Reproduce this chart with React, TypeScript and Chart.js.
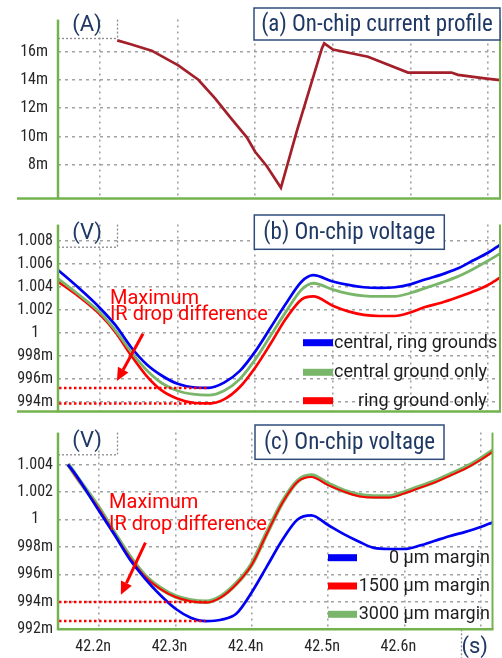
import React, { useEffect, useRef } from "react";
import { Chart, registerables } from "chart.js";

Chart.register(...registerables);

// ---------------- data ----------------
const X_MIN = 42.146; // ns
const X_MAX = 42.7155;
const xTickValues = [42.2, 42.3, 42.4, 42.5, 42.6, 42.7];
const xTickLabels = ["42.2n", "42.3n", "42.4n", "42.5n", "42.6n", "(s)"];

// (a) on-chip current (mA)
const currentTime = [42.2223, 42.2387, 42.2667, 42.301, 42.3268, 42.3484, 42.3677, 42.3893, 42.4, 42.4151, 42.4332, 42.4538, 42.4861, 42.489, 42.5003, 42.5454, 42.597, 42.6529, 42.6615, 42.6959, 42.7174];
const currentValue = [16.81, 16.55, 16.08, 15.04, 14.02, 12.7, 11.37, 9.94, 8.92, 7.9, 6.37, 10.4, 16.26, 16.6, 16.16, 15.65, 14.53, 14.53, 14.37, 14.12, 13.98];
const yTicksA = [8, 10, 12, 14, 16];
const yLabelsA = ["8m", "10m", "12m", "14m", "16m"];

// (b) on-chip voltage (mV)
const timeB = [42.146, 42.17, 42.2, 42.22, 42.24, 42.26, 42.28, 42.3, 42.32, 42.34, 42.36, 42.38, 42.4, 42.42, 42.44, 42.46, 42.475, 42.5, 42.52, 42.54, 42.56, 42.58, 42.6, 42.62, 42.64, 42.66, 42.68, 42.7, 42.716];
const centralRingB = [1005.5, 1004.1, 1002.2, 1000.7, 998.8, 997.3, 996.3, 995.6, 995.3, 995.25, 995.7, 996.7, 998.4, 1000.5, 1002.6, 1004.5, 1005.05, 1004.5, 1004.2, 1004.0, 1003.95, 1004.0, 1004.25, 1004.7, 1005.1, 1005.6, 1006.3, 1007.0, 1007.7];
const centralOnlyB = [1004.75, 1003.5, 1001.8, 1000.25, 998.4, 996.8, 995.65, 995.0, 994.7, 994.62, 995.0, 996.0, 997.7, 999.8, 1001.9, 1003.8, 1004.35, 1003.8, 1003.45, 1003.25, 1003.2, 1003.2, 1003.5, 1003.95, 1004.4, 1004.9, 1005.55, 1006.3, 1006.95];
const ringOnlyB = [1004.5, 1003.35, 1001.65, 1000.1, 998.1, 996.3, 995.0, 994.3, 993.95, 993.9, 994.25, 995.3, 997.0, 999.1, 1001.3, 1002.95, 1003.2, 1002.4, 1001.9, 1001.6, 1001.5, 1001.5, 1001.8, 1002.3, 1002.65, 1003.1, 1003.6, 1004.2, 1004.85];
const namesB = ["central, ring grounds", "central ground only", "ring ground only"];
const yTicksB = [994, 996, 998, 1000, 1002, 1004, 1006, 1008];
const yLabelsB = ["994m", "996m", "998m", "1", "1.002", "1.004", "1.006", "1.008"];
const irLevelsB = [995.24, 993.88];
const irEndsB = [42.339, 42.3456];

// (c) on-chip voltage (mV)
const timeC = [42.159, 42.17, 42.2, 42.22, 42.24, 42.26, 42.28, 42.3, 42.32, 42.34, 42.36, 42.38, 42.4, 42.42, 42.44, 42.46, 42.478, 42.5, 42.52, 42.54, 42.56, 42.58, 42.6, 42.62, 42.64, 42.66, 42.68, 42.7, 42.716];
const margin0C = [1004.0, 1003.2, 1000.6, 998.9, 997.1, 995.7, 994.5, 993.5, 992.85, 992.6, 992.7, 993.15, 994.7, 996.6, 998.5, 1000.0, 1000.3, 999.6, 998.95, 998.4, 997.93, 997.85, 997.85, 998.1, 998.45, 998.8, 999.1, 999.45, 999.8];
const margin1500C = [1004.0, 1003.1, 1000.75, 998.95, 997.25, 995.85, 994.95, 994.35, 994.05, 993.95, 994.35, 995.3, 996.7, 999.0, 1001.2, 1002.75, 1003.1, 1002.5, 1002.05, 1001.7, 1001.6, 1001.6, 1001.9, 1002.3, 1002.7, 1003.2, 1003.7, 1004.35, 1004.95];
const margin3000C = [1004.05, 1003.15, 1000.8, 999.0, 997.3, 995.9, 995.0, 994.4, 994.1, 994.0, 994.4, 995.35, 996.75, 999.05, 1001.25, 1002.8, 1003.2, 1002.6, 1002.1, 1001.78, 1001.68, 1001.68, 1001.98, 1002.38, 1002.78, 1003.28, 1003.78, 1004.42, 1005.02];
const namesC = ["0 μm margin", "1500 μm margin", "3000 μm margin"];
const yTicksC = [992, 994, 996, 998, 1000, 1002, 1004];
const yLabelsC = ["992m", "994m", "996m", "998m", "1", "1.002", "1.004"];
const irLevelsC = [993.98, 992.6];
const irEndsC = [42.342, 42.339];

// ---------------- styles ----------------
const FRAME = "#74B24F";
const NAVY = "#1F3864";
const GRID = "#A2A2A2";
const TICK = "#262626";
const BLUE = "#0000F5";
const GREEN = "#7AB66A";
const RED = "#FF0000";
const MAROON = "#A3202A";

type Decor = {
  offY: number;
  sepLeft: number;
  unit: string;
  unitBottom: number;
  unitY: number;
  title: string;
  titleBox: [number, number, number, number];
  legend?: { names: string[]; colors: string[]; swX: number; swW: number; swH: number; ys: number[]; textX: number[]; align: CanvasTextAlign };
  ir?: { levels: number[]; ends: number[]; arrow: [number, number, number, number]; textX: number; textY: [number, number] };
  sBox?: boolean;
};

function decorPlugin(d: Decor) {
  const seg = (ctx: CanvasRenderingContext2D, x1: number, y1: number, x2: number, y2: number) => {
    ctx.beginPath();
    ctx.moveTo(x1, y1);
    ctx.lineTo(x2, y2);
    ctx.stroke();
  };
  return {
    id: "decor",
    afterDraw(chart: any) {
      const ctx = chart.ctx as CanvasRenderingContext2D;
      const a = chart.chartArea;
      const xs = chart.scales.x;
      const ys = chart.scales.y;
      const o = d.offY;
      ctx.save();
      // unit box (dotted)
      ctx.strokeStyle = "#8A8A8A";
      ctx.lineWidth = 1.3;
      ctx.setLineDash([2, 2]);
      seg(ctx, a.left, d.unitBottom - o + 0.5, 117.5, d.unitBottom - o + 0.5);
      seg(ctx, 117.5, a.top, 117.5, d.unitBottom - o);
      if (d.sBox) {
        seg(ctx, 461.5, a.bottom, 461.5, chart.height);
      }
      ctx.setLineDash([]);
      ctx.fillStyle = NAVY;
      ctx.font = '22px "Roboto"';
      ctx.textAlign = "center";
      ctx.textBaseline = "middle";
      ctx.fillText(d.unit, 87, d.unitY - o);

      // IR drop annotation
      if (d.ir) {
        const ir = d.ir;
        ctx.strokeStyle = RED;
        ctx.lineWidth = 2.5;
        ctx.setLineDash([2.5, 2.5]);
        ir.levels.forEach((lv, i) => {
          const y = ys.getPixelForValue(lv);
          seg(ctx, a.left + 1, y, xs.getPixelForValue(ir.ends[i]), y);
        });
        ctx.setLineDash([]);
        const x1 = xs.getPixelForValue(ir.arrow[0]);
        const y1 = ys.getPixelForValue(ir.arrow[1]);
        const x2 = xs.getPixelForValue(ir.arrow[2]);
        const y2 = ys.getPixelForValue(ir.arrow[3]);
        const ang = Math.atan2(y2 - y1, x2 - x1);
        const hl = 13;
        const hw = 6;
        const bx = x2 - hl * Math.cos(ang);
        const by = y2 - hl * Math.sin(ang);
        ctx.lineWidth = 3;
        seg(ctx, x1, y1, bx, by);
        ctx.fillStyle = RED;
        ctx.beginPath();
        ctx.moveTo(x2, y2);
        ctx.lineTo(bx + hw * Math.sin(ang), by - hw * Math.cos(ang));
        ctx.lineTo(bx - hw * Math.sin(ang), by + hw * Math.cos(ang));
        ctx.closePath();
        ctx.fill();
        ctx.font = '20px "Roboto"';
        ctx.textAlign = "left";
        ctx.textBaseline = "alphabetic";
        const tx = xs.getPixelForValue(ir.textX);
        ctx.fillText("Maximum", tx, ys.getPixelForValue(ir.textY[0]));
        ctx.fillText("IR drop difference", tx, ys.getPixelForValue(ir.textY[1]));
      }

      // legend
      if (d.legend) {
        const lg = d.legend;
        ctx.font = '18px "Roboto"';
        ctx.textBaseline = "middle";
        ctx.textAlign = lg.align;
        lg.names.forEach((n, i) => {
          const y = lg.ys[i] - o;
          ctx.fillStyle = lg.colors[i];
          ctx.fillRect(lg.swX, y - lg.swH / 2, lg.swW, lg.swH);
          ctx.fillStyle = "#1E1E1E";
          ctx.fillText(n, lg.textX[i], y + 0.5);
        });
      }

      // frame
      ctx.strokeStyle = FRAME;
      ctx.lineWidth = 2.5;
      seg(ctx, a.left, a.top, a.left, a.bottom + 1);
      ctx.lineWidth = 2;
      seg(ctx, a.right, a.top, a.right, a.bottom);
      ctx.lineWidth = 2.5;
      seg(ctx, d.sepLeft, a.bottom, a.right + 1, a.bottom);

      // title box
      const [bx1, by1, bx2, by2] = d.titleBox;
      ctx.fillStyle = "#FFFFFF";
      ctx.fillRect(bx1, by1 - o, bx2 - bx1, by2 - by1);
      ctx.strokeStyle = "#2F4C7C";
      ctx.lineWidth = 1.5;
      ctx.strokeRect(bx1, by1 - o, bx2 - bx1, by2 - by1);
      ctx.fillStyle = NAVY;
      ctx.font = '23px "Roboto Condensed"';
      ctx.textAlign = "center";
      ctx.textBaseline = "middle";
      ctx.fillText(d.title, (bx1 + bx2) / 2, (by1 + by2) / 2 - o + 1);
      ctx.restore();
    },
  };
}

type PanelCfg = {
  height: number;
  padTop: number;
  padBottom: number;
  xHeight: number;
  showX: boolean;
  yMin: number;
  yMax: number;
  yTicks: number[];
  yLabels: string[];
  yPad: number;
  yAlign: "near" | "center";
  datasets: any[];
  decor: Decor;
};

function buildConfig(p: PanelCfg): any {
  return {
    type: "line",
    data: { datasets: p.datasets },
    options: {
      responsive: false,
      animation: false,
      devicePixelRatio: 1,
      layout: { padding: { top: p.padTop, bottom: p.padBottom, left: 0, right: 2 }, autoPadding: false },
      plugins: { legend: { display: false }, tooltip: { enabled: false }, title: { display: false } },
      elements: { point: { radius: 0 } },
      scales: {
        x: {
          type: "linear",
          min: X_MIN,
          max: X_MAX,
          afterBuildTicks: (s: any) => {
            s.ticks = xTickValues.map((v) => ({ value: v }));
          },
          afterFit: (s: any) => {
            s.height = p.xHeight;
          },
          grid: { display: true, drawTicks: false, color: GRID, lineWidth: 1.6 },
          border: { display: false, dash: [2, 4] },
          ticks: {
            display: p.showX,
            padding: 8,
            labelOffset: -6,
            maxRotation: 0,
            autoSkip: false,
            callback: (v: number) => xTickLabels[xTickValues.indexOf(v)] ?? "",
            color: (c: any) => (c.tick && c.tick.value > 42.65 ? NAVY : TICK),
            font: (c: any) =>
              c.tick && c.tick.value > 42.65
                ? { family: "Roboto", size: 22, lineHeight: 0.9 }
                : { family: "Roboto Condensed", size: 16, lineHeight: 1.2 },
          },
        },
        y: {
          type: "linear",
          min: p.yMin,
          max: p.yMax,
          afterBuildTicks: (s: any) => {
            s.ticks = p.yTicks.map((v) => ({ value: v }));
          },
          afterFit: (s: any) => {
            s.width = 58;
          },
          grid: { display: true, drawTicks: false, color: GRID, lineWidth: 1.6 },
          border: { display: false, dash: [3, 4] },
          ticks: {
            padding: p.yPad,
            crossAlign: p.yAlign,
            autoSkip: false,
            color: TICK,
            font: { family: "Roboto Condensed", size: 16 },
            callback: (v: number) => p.yLabels[p.yTicks.indexOf(v)] ?? "",
          },
        },
      },
    },
    plugins: [decorPlugin(p.decor)],
  };
}

function series(times: number[], values: number[], color: string, width: number, mode: "default" | "monotone" = "monotone") {
  return {
    data: times.map((t, i) => ({ x: t, y: values[i] })),
    borderColor: color,
    borderWidth: width,
    pointRadius: 0,
    cubicInterpolationMode: mode,
    tension: mode === "monotone" ? 0.4 : 0,
    fill: false,
  };
}

const panelA: PanelCfg = {
  height: 218,
  padTop: 7,
  padBottom: 4,
  xHeight: 0,
  showX: false,
  yMin: 5.62,
  yMax: 18.28,
  yTicks: yTicksA,
  yLabels: yLabelsA,
  yPad: 10,
  yAlign: "near",
  datasets: [series(currentTime, currentValue, MAROON, 2.7, "default")],
  decor: {
    offY: 0,
    sepLeft: 17,
    unit: "(A)",
    unitBottom: 38,
    unitY: 25,
    title: "(a) On-chip current profile",
    titleBox: [254, 8, 500, 40],
  },
};

const panelB: PanelCfg = {
  height: 216,
  padTop: 3,
  padBottom: 4,
  xHeight: 0,
  showX: false,
  yMin: 993.2,
  yMax: 1009.45,
  yTicks: yTicksB,
  yLabels: yLabelsB,
  yPad: 5,
  yAlign: "center",
  datasets: [
    series(timeB, centralRingB, BLUE, 2.7),
    series(timeB, centralOnlyB, GREEN, 2.8),
    series(timeB, ringOnlyB, RED, 2.7),
  ],
  decor: {
    offY: 210,
    sepLeft: 17,
    unit: "(V)",
    unitBottom: 246.7,
    unitY: 233,
    title: "(b) On-chip voltage",
    titleBox: [254.3, 215, 444.3, 249.3],
    legend: {
      names: namesB,
      colors: [BLUE, GREEN, RED],
      swX: 303,
      swW: 30,
      swH: 7,
      ys: [342.7, 372.3, 400.7],
      textX: [334, 334, 358],
      align: "left",
    },
    ir: {
      levels: irLevelsB,
      ends: irEndsB,
      arrow: [42.2555, 999.96, 42.2219, 995.84],
      textX: 42.2129,
      textY: [1002.55, 1001.19],
    },
  },
};

const panelC: PanelCfg = {
  height: 240,
  padTop: 4,
  padBottom: 0,
  xHeight: 28.7,
  showX: true,
  yMin: 992,
  yMax: 1006.33,
  yTicks: yTicksC,
  yLabels: yLabelsC,
  yPad: 5,
  yAlign: "center",
  datasets: [
    series(timeC, margin0C, BLUE, 2.7),
    series(timeC, margin1500C, RED, 2),
    series(timeC, margin3000C, GREEN, 4.5),
  ],
  decor: {
    offY: 418,
    sepLeft: 58,
    unit: "(V)",
    unitBottom: 454.3,
    unitY: 441.7,
    title: "(c) On-chip voltage",
    titleBox: [255, 425, 444, 459.3],
    legend: {
      names: namesC,
      colors: [BLUE, RED, GREEN],
      swX: 328,
      swW: 29,
      swH: 7,
      ys: [557.7, 586, 614.3],
      textX: [490, 490, 490],
      align: "right",
    },
    ir: {
      levels: irLevelsC,
      ends: irEndsC,
      arrow: [42.2606, 998.31, 42.2284, 994.51],
      textX: 42.2129,
      textY: [1000.82, 999.21],
    },
    sBox: true,
  },
};

function Panel({ cfg, top }: { cfg: PanelCfg; top: number }) {
  const ref = useRef<HTMLCanvasElement>(null);
  useEffect(() => {
    if (!ref.current) return;
    const chart = new Chart(ref.current, buildConfig(cfg));
    return () => chart.destroy();
  }, [cfg]);
  return (
    <canvas
      ref={ref}
      width={502}
      height={cfg.height}
      style={{ position: "absolute", left: 0, top, width: 502, height: cfg.height }}
    />
  );
}

export default function App() {
  return (
    <div style={{ position: "fixed", left: 0, top: 0, width: 502, height: 658, background: "#FFFFFF", overflow: "hidden" }}>
      <Panel cfg={panelA} top={0} />
      <Panel cfg={panelB} top={210} />
      <Panel cfg={panelC} top={418} />
    </div>
  );
}
